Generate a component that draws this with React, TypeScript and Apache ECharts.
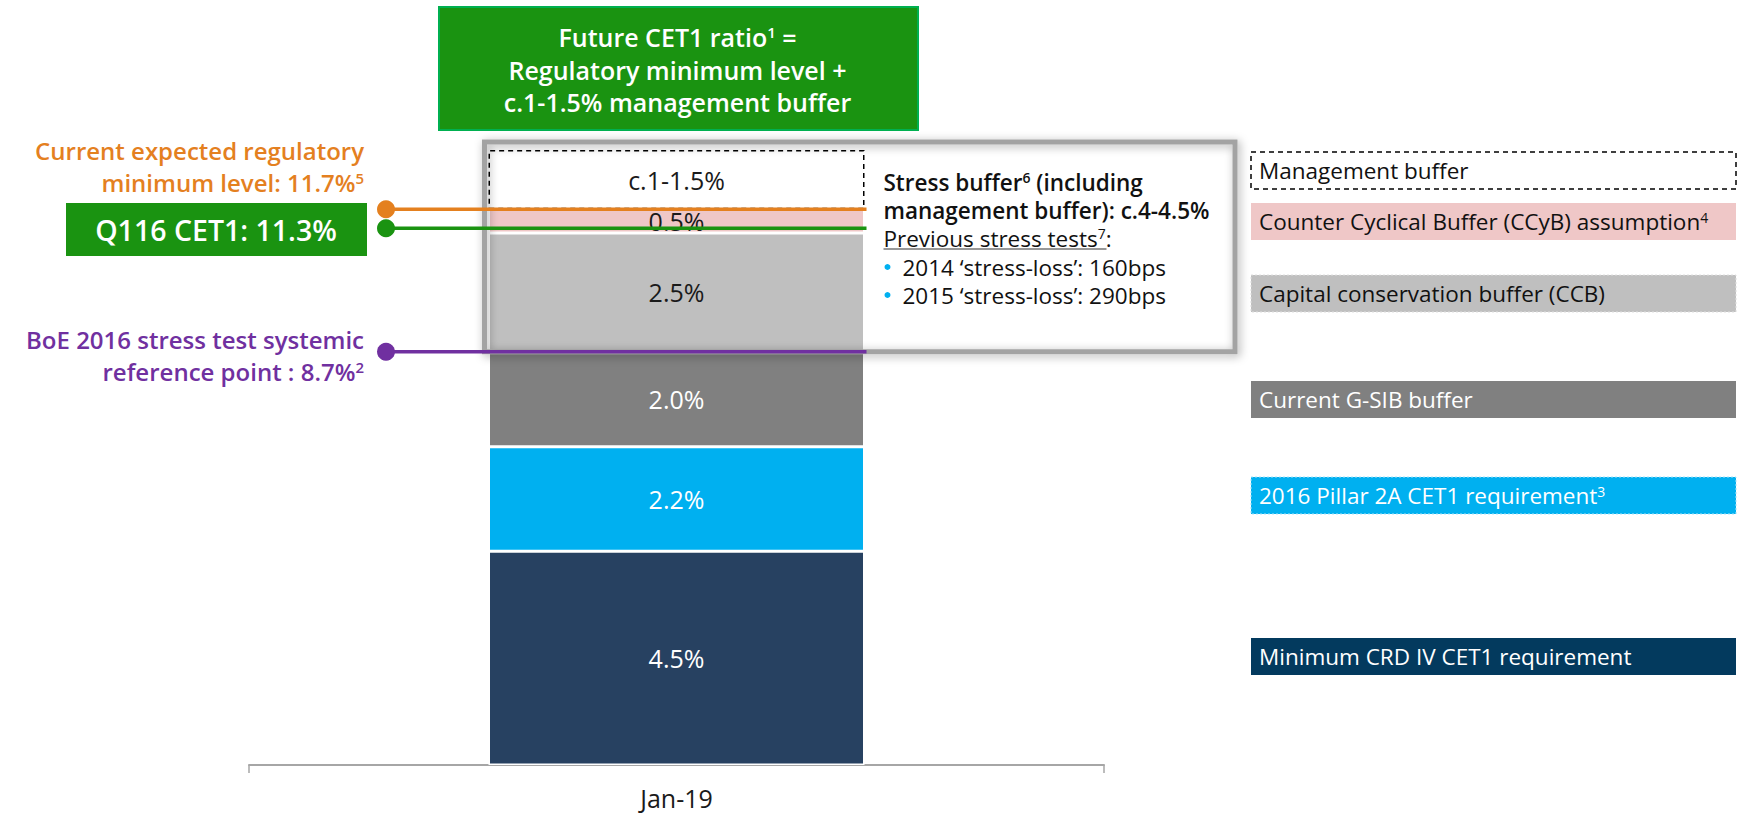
import React, { useEffect, useRef } from "react";
import * as echarts from "echarts";

// ---------- data ----------
const categories = ["Jan-19"];
const segmentNames = [
  "Minimum CRD IV CET1 requirement",
  "2016 Pillar 2A CET1 requirement",
  "Current G-SIB buffer",
  "Capital conservation buffer (CCB)",
  "Counter Cyclical Buffer (CCyB) assumption",
  "Management buffer",
];
const segmentValues = [4.5, 2.2, 2.0, 2.5, 0.5, 1.25];
const segmentLabels = ["4.5%", "2.2%", "2.0%", "2.5%", "0.5%", "c.1-1.5%"];
const legendSups = ["", "3", "", "", "4", ""];
const regulatoryMinimum = 11.7;
const q116Cet1 = 11.3;
const boeReferencePoint = 8.7;
const stressLines = [
  "2014 \u2018stress-loss\u2019: 160bps",
  "2015 \u2018stress-loss\u2019: 290bps",
];

// ---------- styles ----------
const FONT = "Open Sans";
const barColors = ["#274161", "#00b0f0", "#808080", "#bfbfbf", "#efc7c7", "#ffffff"];
const labelColors = ["#ffffff", "#ffffff", "#ffffff", "#1a1a1a", "#1a1a1a", "#1a1a1a"];
const ORANGE = "#e4801f";
const GREEN = "#1a9311";
const PURPLE = "#7030a0";

export default function App() {
  const ref = useRef<HTMLDivElement>(null);

  useEffect(() => {
    if (!ref.current) return;
    const chart = echarts.init(ref.current, undefined, { renderer: "svg" });
    const BAR_W = 376;

    chart.setOption({
      animation: false,
      grid: { left: 249, right: 636, top: 5, bottom: 50 },
      xAxis: {
        type: "category",
        data: categories,
        axisLine: { lineStyle: { color: "#a6a6a6", width: 2 } },
        axisTick: { show: true, length: 8, lineStyle: { color: "#a6a6a6", width: 1.5 } },
        axisLabel: { fontFamily: FONT, fontSize: 25, color: "#1a1a1a", margin: 20 },
      },
      yAxis: { type: "value", min: 0, max: 16, show: false, splitLine: { show: false } },
      series: segmentValues.map((v, i) => ({
        type: "bar",
        name: segmentNames[i],
        stack: "total",
        barWidth: BAR_W,
        data: [v],
        itemStyle:
          i === segmentValues.length - 1
            ? { color: "#ffffff", borderColor: "#000000", borderWidth: 1.5, borderType: [5, 4] }
            : { color: barColors[i], borderColor: "#ffffff", borderWidth: 1.5 },
        label: {
          show: true,
          position: "inside",
          formatter: segmentLabels[i],
          color: labelColors[i],
          fontFamily: FONT,
          fontSize: 25,
        },
      })),
    });

    const total = segmentValues.reduce((a, b) => a + b, 0);
    const px = (v: number) => chart.convertToPixel({ gridIndex: 0 }, [categories[0], v]) as number[];
    const cx = px(0)[0];
    const barLeft = cx - BAR_W / 2;
    const barRight = cx + BAR_W / 2;
    const yTop = px(total)[1];

    const sup = (size: number, color: string, weight: any = "normal") => ({
      fontSize: size,
      fontFamily: FONT,
      fontWeight: weight,
      fill: color,
      verticalAlign: "top",
    });

    const graphics: any[] = [];

    // Top green box
    graphics.push({
      type: "rect",
      shape: { x: 439, y: 7, width: 479, height: 123 },
      style: { fill: GREEN, stroke: "#00b050", lineWidth: 2 },
      z: 50,
    });
    const topLines = ["Future CET1 ratio{s|1} =", "Regulatory minimum level +", "c.1-1.5% management buffer"];
    topLines.forEach((t, i) => {
      graphics.push({
        type: "text",
        x: cx + 1,
        y: 37 + i * 32.5,
        z: 51,
        style: {
          text: t,
          fill: "#ffffff",
          fontFamily: FONT,
          fontSize: 25,
          fontWeight: 600,
          align: "center",
          verticalAlign: "middle",
          rich: { s: sup(15, "#ffffff", 600) },
        },
      });
    });

    // Stress buffer frame
    const frameBottom = px(boeReferencePoint)[1];
    graphics.push({
      type: "rect",
      shape: { x: barLeft - 4, y: yTop - 8, width: 1235 - (barLeft - 4), height: frameBottom - (yTop - 8) },
      style: {
        fill: "none",
        stroke: "#a3a3a3",
        lineWidth: 5,
        shadowBlur: 10,
        shadowColor: "rgba(0,0,0,0.35)",
        shadowOffsetX: 2,
        shadowOffsetY: 2,
      },
      z: 40,
    });

    // Stress text
    const sx = barRight + 19;
    graphics.push({
      type: "text",
      x: sx,
      y: 182,
      z: 45,
      style: {
        text: "Stress buffer{s|6} (including",
        fill: "#111111",
        fontFamily: FONT,
        fontSize: 22.5,
        fontWeight: 600,
        align: "left",
        verticalAlign: "middle",
        rich: { s: sup(14, "#111111", 600) },
      },
    });
    graphics.push({
      type: "text",
      x: sx,
      y: 210,
      z: 45,
      style: {
        text: "management buffer): c.4-4.5%",
        fill: "#111111",
        fontFamily: FONT,
        fontSize: 22.5,
        fontWeight: 600,
        align: "left",
        verticalAlign: "middle",
      },
    });
    graphics.push({
      type: "text",
      x: sx,
      y: 238,
      z: 45,
      style: {
        text: "Previous stress tests{s|7}:",
        fill: "#111111",
        fontFamily: FONT,
        fontSize: 22.5,
        align: "left",
        verticalAlign: "middle",
        rich: { s: sup(14, "#111111") },
      },
    });
    graphics.push({
      type: "line",
      shape: { x1: sx, y1: 249, x2: sx + 223, y2: 249 },
      style: { stroke: "#333333", lineWidth: 1.2 },
      z: 45,
    });
    stressLines.forEach((t, i) => {
      const y = 267 + i * 28;
      graphics.push({
        type: "circle",
        shape: { cx: sx + 4, cy: y, r: 3 },
        style: { fill: "#00b0f0" },
        z: 45,
      });
      graphics.push({
        type: "text",
        x: sx + 19,
        y,
        z: 45,
        style: {
          text: t,
          fill: "#111111",
          fontFamily: FONT,
          fontSize: 22.5,
          align: "left",
          verticalAlign: "middle",
        },
      });
    });

    // Reference lines with dots
    const refs = [
      { v: regulatoryMinimum, color: ORANGE },
      { v: q116Cet1, color: GREEN },
      { v: boeReferencePoint, color: PURPLE },
    ];
    refs.forEach((r) => {
      const y = px(r.v)[1];
      graphics.push({
        type: "line",
        shape: { x1: 386, y1: y, x2: barRight + 2, y2: y },
        style: { stroke: r.color, lineWidth: 3.5 },
        z: 60,
      });
      graphics.push({
        type: "circle",
        shape: { cx: 386, cy: y, r: 9 },
        style: { fill: r.color },
        z: 60,
      });
    });

    // Left labels
    const leftText = (text: string, y: number, color: string) => ({
      type: "text",
      x: 364,
      y,
      z: 60,
      style: {
        text,
        fill: color,
        fontFamily: FONT,
        fontSize: 24,
        fontWeight: 600,
        align: "right",
        verticalAlign: "middle",
        rich: { s: sup(15, color, 600) },
      },
    });
    graphics.push(leftText("Current expected regulatory", 150, ORANGE));
    graphics.push(leftText(`minimum level: ${regulatoryMinimum}%{s|5}`, 182, ORANGE));
    graphics.push(leftText("BoE 2016 stress test systemic", 339, PURPLE));
    graphics.push(leftText(`reference point : ${boeReferencePoint}%{s|2}`, 371, PURPLE));

    graphics.push({
      type: "rect",
      shape: { x: 66, y: 203, width: 301, height: 53 },
      style: { fill: GREEN },
      z: 60,
    });
    graphics.push({
      type: "text",
      x: 216,
      y: 230,
      z: 61,
      style: {
        text: `Q116 CET1: ${q116Cet1}%`,
        fill: "#ffffff",
        fontFamily: FONT,
        fontSize: 28.5,
        fontWeight: 600,
        align: "center",
        verticalAlign: "middle",
      },
    });

    // Right legend boxes (top to bottom)
    const legendTops = [152, 203, 275, 381, 477, 638];
    const legendStyles = [
      { fill: "#ffffff", stroke: "#000000", lineWidth: 1.5, lineDash: [5, 4], text: "#111111" },
      { fill: "#efc7c7", stroke: null, text: "#111111" },
      { fill: "#bfbfbf", stroke: "#dedede", lineWidth: 1, lineDash: [2, 2], text: "#111111" },
      { fill: "#808080", stroke: null, text: "#ffffff" },
      { fill: "#00b0f0", stroke: "#a6e3f9", lineWidth: 1, lineDash: [2, 2], text: "#ffffff" },
      { fill: "#033a5e", stroke: null, text: "#ffffff" },
    ];
    const order = [5, 4, 3, 2, 1, 0];
    order.forEach((si, k) => {
      const st = legendStyles[k];
      const top = legendTops[k];
      graphics.push({
        type: "rect",
        shape: { x: 1251, y: top, width: 485, height: 37 },
        style: {
          fill: st.fill,
          stroke: st.stroke || undefined,
          lineWidth: st.stroke ? st.lineWidth : 0,
          lineDash: st.lineDash,
        },
        z: 30,
      });
      const supTxt = legendSups[si] ? `{s|${legendSups[si]}}` : "";
      graphics.push({
        type: "text",
        x: 1259,
        y: top + 18.5,
        z: 31,
        style: {
          text: segmentNames[si] + supTxt,
          fill: st.text,
          fontFamily: FONT,
          fontSize: 22.5,
          align: "left",
          verticalAlign: "middle",
          rich: { s: sup(14, st.text) },
        },
      });
    });

    chart.setOption({ graphic: graphics });

    return () => chart.dispose();
  }, []);

  return (
    <div
      ref={ref}
      style={{ position: "absolute", left: 0, top: 0, width: 1740, height: 815, background: "#ffffff" }}
    />
  );
}
